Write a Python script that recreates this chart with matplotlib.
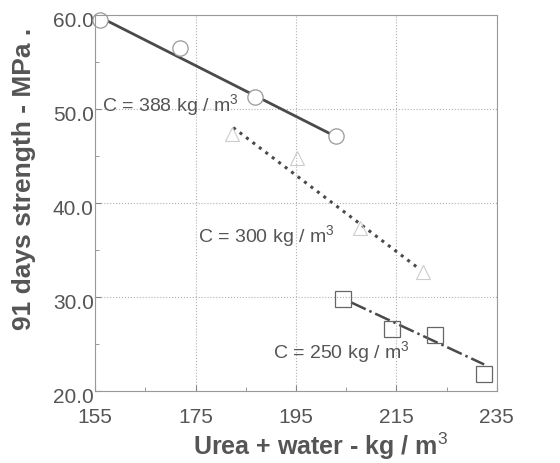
import matplotlib.pyplot as plt
import matplotlib.transforms as mtransforms
from matplotlib.ticker import MultipleLocator, FixedLocator

plt.rcParams['font.family'] = ['Liberation Sans', 'DejaVu Sans']
plt.rcParams['mathtext.fontset'] = 'custom'
plt.rcParams['mathtext.rm'] = 'Liberation Sans'

# measured points
c388_x = [156.0, 171.9, 186.8, 202.9]
c388_y = [59.4, 56.5, 51.3, 47.1]
c300_x = [182.3, 195.2, 207.7, 220.3]
c300_y = [47.3, 44.8, 37.3, 32.6]
c250_x = [204.4, 214.1, 222.7, 232.4]
c250_y = [29.8, 26.6, 25.9, 21.8]

# fitted lines (end points)
fit388_x = [156.5, 202.0]
fit388_y = [59.6, 47.3]
fit300_x = [182.5, 219.5]
fit300_y = [48.0, 33.0]
fit250_x = [206.0, 232.5]
fit250_y = [29.4, 22.8]

xticks = [155, 175, 195, 215, 235]
xminor = [165, 185, 205, 225]

gray = '#555555'
line_c = '#4a4a4a'

fig = plt.figure(figsize=(5.6, 4.63), dpi=100)
ax = fig.add_axes([0.170, 0.156, 0.717, 0.812])

ax.plot(fit388_x, fit388_y, '-', color=line_c, lw=2.0)
ax.plot(fit300_x, fit300_y, ':', color=line_c, lw=2.2)
ax.plot(fit250_x, fit250_y, '-.', color=line_c, lw=1.8)

ax.plot(c388_x, c388_y, 'o', ms=11, mfc='white', mec='#999999', mew=0.9, clip_on=False)
ax.plot(c300_x, c300_y, '^', ms=10, mfc='none', mec='#cccccc', mew=0.8)
ax.plot(c250_x, c250_y, 's', ms=11, mfc='none', mec='#666666', mew=0.9)

ax.text(156.4, 50.3, 'C = 388 kg / m$^3$', color=gray, fontsize=14, va='center')
ax.text(175.5, 36.4, 'C = 300 kg / m$^3$', color=gray, fontsize=14, va='center')
ax.text(190.4, 24.0, 'C = 250 kg / m$^3$', color=gray, fontsize=14, va='center')

ax.set_xlim(155, 235)
ax.set_ylim(20, 60)
ax.xaxis.set_major_locator(FixedLocator(xticks))
ax.xaxis.set_minor_locator(FixedLocator(xminor))
ax.yaxis.set_major_locator(MultipleLocator(10))
ax.yaxis.set_minor_locator(MultipleLocator(5))
ax.yaxis.set_major_formatter('{x:.1f}')
ax.tick_params(which='both', direction='in', colors='#888888', labelcolor=gray, labelsize=15)
ax.tick_params(which='major', length=4)
ax.tick_params(which='minor', length=3)
ax.tick_params(axis='y', pad=1)
ax.tick_params(axis='x', pad=12.5)
ax.grid(True, which='major', ls=':', color='#b0b0b0', lw=0.8)

# y tick labels sit a bit below their ticks in the original
shift = mtransforms.ScaledTranslation(0, -5 / 100, fig.dpi_scale_trans)
for lab in ax.get_yticklabels():
    lab.set_transform(lab.get_transform() + shift)

for s in ax.spines.values():
    s.set_color('#999999')
    s.set_linewidth(0.8)

ax.set_xlabel('Urea + water - kg / m$^3$', color=gray, fontsize=18, fontweight='bold')
ax.set_ylabel('91 days strength - MPa .', color=gray, fontsize=19, fontweight='bold')
ax.xaxis.set_label_coords(0.56, -0.105)
ax.yaxis.set_label_coords(-0.148, 0.564)

fig.savefig('out.png', dpi=100)
